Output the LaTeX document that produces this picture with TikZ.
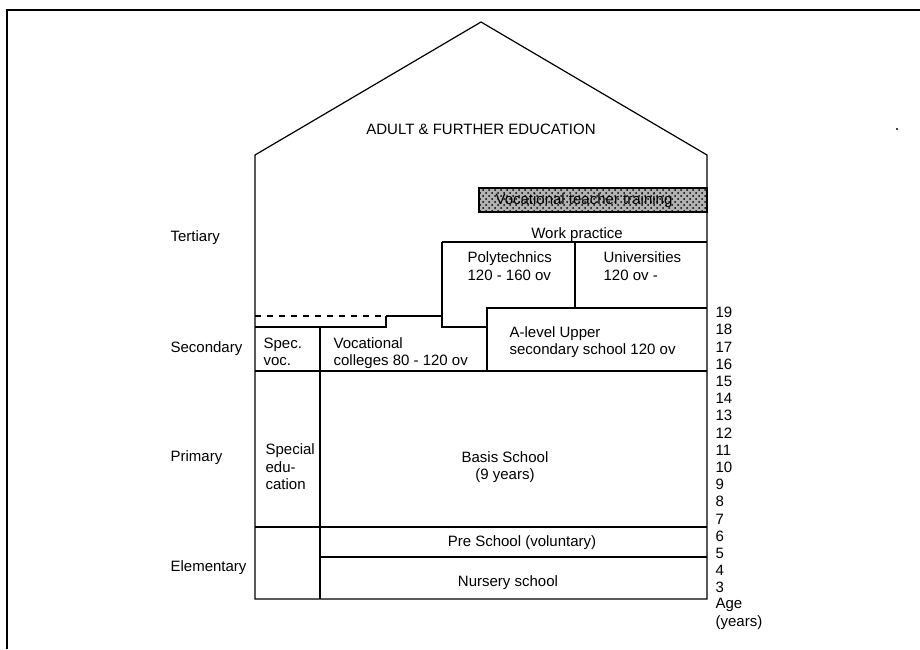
\documentclass[tikz,border=0pt]{standalone}
\usepackage{fontspec}
\setmainfont{Liberation Sans}
\usepackage{tikz}
\usetikzlibrary{patterns}

\begin{document}
\begin{tikzpicture}[x=0.5pt, y=-0.5pt, line width=0.6pt,
    lbl/.style={font=\fontsize{7.5}{8.8}\selectfont, inner sep=0pt, align=left},
    clbl/.style={lbl, align=center},
    shaded/.style={draw, fill=gray!60, postaction={pattern=crosshatch dots}}]
					\useasboundingbox (0,0) rectangle (920,649);
					
					% Cadre
					\draw (7,649) -- (7,10) -- (920,10);
					\fill (897,129) circle (1.2);
					
					% Maison
					\draw (255,599) -- (255,155) -- (481,22) -- (707,155) -- (707,599) -- cycle;
					\node[clbl] (adult) at (481,129) {ADULT \& FURTHER EDUCATION};
					
					% Niveau tertiaire
					\draw[shaded] (479,188) rectangle (707,212);
					\node[clbl] (teacher) at (584,201) {Vocational teacher training};
					\node[clbl] (work) at (577,235) {Work practice};
					\draw (442,242) -- (707,242);
					\draw (442,242) -- (442,327) -- (487,327) -- (487,308) -- (707,308);
					\draw (575,242) -- (575,308);
					\node[lbl, anchor=west] (poly) at (467,266) {Polytechnics\\120 - 160 ov};
					\node[lbl, anchor=west] (univ) at (603,266) {Universities\\120 ov -};
					
					% Niveau secondaire
					\draw[dashed] (255,316) -- (386,316);
					\draw (386,316) -- (442,316);
					\draw (255,327) -- (386,327) -- (386,316);
					\draw (255,371) -- (707,371);
					\draw (487,327) -- (487,371);
					\node[lbl, anchor=west] (specvoc) at (263,352) {Spec.\\voc.};
					\node[lbl, anchor=west] (voccol) at (333,353) {Vocational\\colleges 80 - 120 ov};
					\node[lbl, anchor=west] (alevel) at (509,342) {A-level Upper\\secondary school 120 ov};
					
					% Primaire et elementaire
					\draw (320,327) -- (320,599);
					\draw (255,527) -- (707,527);
					\draw (320,557) -- (707,557);
					\node[lbl, anchor=west] (special) at (265,467) {Special\\edu-\\cation};
					\node[clbl] (basis) at (505,467) {Basis School\\(9 years)};
					\node[clbl] (pre) at (522,543) {Pre School (voluntary)};
					\node[clbl] (nursery) at (508,583) {Nursery school};
					
					% Niveaux
					\node[lbl, anchor=west] (tertiary) at (170,238) {Tertiary};
					\node[lbl, anchor=west] (secondary) at (170,349) {Secondary};
					\node[lbl, anchor=west] (primary) at (170,458) {Primary};
					\node[lbl, anchor=west] (elementary) at (170,568) {Elementary};
					
					% Ages
					\foreach \a [count=\i from 0] in {19,18,...,3} {
						\node[lbl, anchor=west] (age\a) at (715,{312.5+17.2*\i}) {\a};
					}
					\node[lbl, anchor=north west] (age) at (715,598) {Age\\(years)};
				\end{tikzpicture}
\end{document}
